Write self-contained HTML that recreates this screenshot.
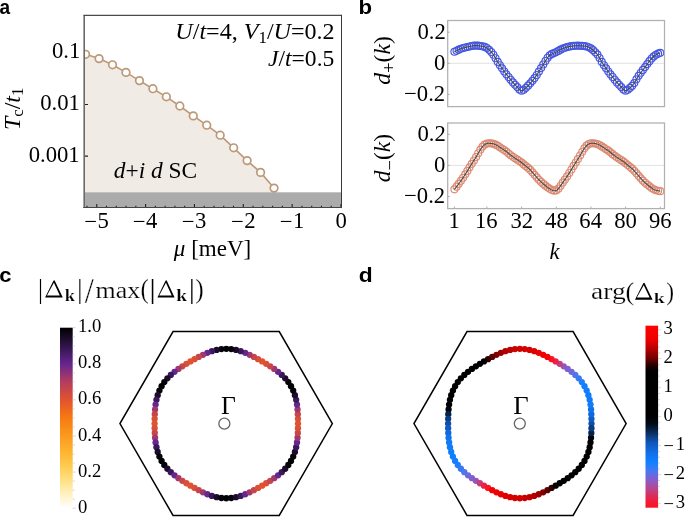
<!DOCTYPE html><html><head><meta charset="utf-8"><style>html,body{margin:0;padding:0;background:#fff;}svg{display:block;will-change:transform;}</style></head><body>
<svg width="685" height="517" viewBox="0 0 685 517" font-family="'Liberation Serif', serif">
<defs><clipPath id="ca"><rect x="84.5" y="15.5" width="256.5" height="192.5"/></clipPath>
<linearGradient id="gsun" x1="0" y1="0" x2="0" y2="1"><stop offset="0" stop-color="#000000"/><stop offset="0.1" stop-color="#2e1448"/><stop offset="0.2" stop-color="#642690"/><stop offset="0.3" stop-color="#b33d5e"/><stop offset="0.4" stop-color="#e1532f"/><stop offset="0.5" stop-color="#f77a12"/><stop offset="0.6" stop-color="#fb9a1e"/><stop offset="0.7" stop-color="#fdb833"/><stop offset="0.8" stop-color="#fed563"/><stop offset="0.9" stop-color="#ffedae"/><stop offset="1" stop-color="#ffffff"/></linearGradient>
<linearGradient id="garg" x1="0" y1="0" x2="0" y2="1"><stop offset="0" stop-color="#ff0000"/><stop offset="0.07" stop-color="#f00000"/><stop offset="0.12" stop-color="#c00000"/><stop offset="0.18" stop-color="#700000"/><stop offset="0.22" stop-color="#200000"/><stop offset="0.25" stop-color="#000000"/><stop offset="0.5" stop-color="#000000"/><stop offset="0.54" stop-color="#020a18"/><stop offset="0.59" stop-color="#0a2d60"/><stop offset="0.64" stop-color="#0f55b8"/><stop offset="0.7" stop-color="#1070e8"/><stop offset="0.75" stop-color="#1080ff"/><stop offset="0.8" stop-color="#4878f0"/><stop offset="0.84" stop-color="#8060d0"/><stop offset="0.89" stop-color="#b04a98"/><stop offset="0.94" stop-color="#e02850"/><stop offset="1" stop-color="#ff1020"/></linearGradient>
</defs>
<polygon points="84.5,53.95 85.6,54.3 99.06,58.6 112.52,64.8 125.98,72.4 139.44,80.6 152.9,88.7 166.36,96.8 179.82,106 193.28,115.9 206.74,125.2 220.2,135.2 233.66,147.8 247.12,160.6 260.58,172.4 274.04,188.1 274.04,192.3 84.5,192.3" fill="#f0ebe5"/>
<rect x="84.5" y="192.3" width="256.5" height="15.699999999999989" fill="#ababab"/>
<path d="M86.98,207.5v-1.8M96.75,207.5v-3.4M106.52,207.5v-1.8M116.29,207.5v-1.8M126.06,207.5v-1.8M135.83,207.5v-1.8M145.6,207.5v-3.4M155.37,207.5v-1.8M165.14,207.5v-1.8M174.91,207.5v-1.8M184.68,207.5v-1.8M194.45,207.5v-3.4M204.22,207.5v-1.8M213.99,207.5v-1.8M223.76,207.5v-1.8M233.53,207.5v-1.8M243.3,207.5v-3.4M253.07,207.5v-1.8M262.84,207.5v-1.8M272.61,207.5v-1.8M282.38,207.5v-1.8M292.15,207.5v-3.4M301.92,207.5v-1.8M311.69,207.5v-1.8M321.46,207.5v-1.8M331.23,207.5v-1.8M341,207.5v-3.4M84.5,52.9h3.5M84.5,104.5h3.5M84.5,156.1h3.5" stroke="#222" stroke-width="1.1" fill="none"/>
<g clip-path="url(#ca)">
<polyline points="85.6,54.3 99.06,58.6 112.52,64.8 125.98,72.4 139.44,80.6 152.9,88.7 166.36,96.8 179.82,106 193.28,115.9 206.74,125.2 220.2,135.2 233.66,147.8 247.12,160.6 260.58,172.4 274.04,188.1" fill="none" stroke="#BD9977" stroke-width="1.6"/>
<circle cx="85.6" cy="54.3" r="3.8" fill="#fff" stroke="#BD9977" stroke-width="1.7"/><circle cx="99.06" cy="58.6" r="3.8" fill="#fff" stroke="#BD9977" stroke-width="1.7"/><circle cx="112.52" cy="64.8" r="3.8" fill="#fff" stroke="#BD9977" stroke-width="1.7"/><circle cx="125.98" cy="72.4" r="3.8" fill="#fff" stroke="#BD9977" stroke-width="1.7"/><circle cx="139.44" cy="80.6" r="3.8" fill="#fff" stroke="#BD9977" stroke-width="1.7"/><circle cx="152.9" cy="88.7" r="3.8" fill="#fff" stroke="#BD9977" stroke-width="1.7"/><circle cx="166.36" cy="96.8" r="3.8" fill="#fff" stroke="#BD9977" stroke-width="1.7"/><circle cx="179.82" cy="106" r="3.8" fill="#fff" stroke="#BD9977" stroke-width="1.7"/><circle cx="193.28" cy="115.9" r="3.8" fill="#fff" stroke="#BD9977" stroke-width="1.7"/><circle cx="206.74" cy="125.2" r="3.8" fill="#fff" stroke="#BD9977" stroke-width="1.7"/><circle cx="220.2" cy="135.2" r="3.8" fill="#fff" stroke="#BD9977" stroke-width="1.7"/><circle cx="233.66" cy="147.8" r="3.8" fill="#fff" stroke="#BD9977" stroke-width="1.7"/><circle cx="247.12" cy="160.6" r="3.8" fill="#fff" stroke="#BD9977" stroke-width="1.7"/><circle cx="260.58" cy="172.4" r="3.8" fill="#fff" stroke="#BD9977" stroke-width="1.7"/><circle cx="274.04" cy="188.1" r="3.8" fill="#fff" stroke="#BD9977" stroke-width="1.7"/>
</g>
<path d="M84.2,15.4V208.1" stroke="#6a6a6a" stroke-width="1.6" fill="none"/>
<path d="M83.4,15.4H341.5" stroke="#4a4a4a" stroke-width="1.2" fill="none"/>
<path d="M341.5,14.8V208.1" stroke="#383838" stroke-width="1" fill="none"/>
<path d="M83.4,207.5H342" stroke="#444" stroke-width="1.2" fill="none"/>
<line x1="447.7" x2="664.5" y1="63.3" y2="63.3" stroke="#e2e2e2" stroke-width="1"/>
<circle cx="454.4" cy="51.75" r="3.5" fill="none" stroke="#4556e0" stroke-width="1.15"/><circle cx="456.57" cy="50.73" r="3.5" fill="none" stroke="#4556e0" stroke-width="1.15"/><circle cx="458.73" cy="49.64" r="3.5" fill="none" stroke="#4556e0" stroke-width="1.15"/><circle cx="460.9" cy="48.71" r="3.5" fill="none" stroke="#4556e0" stroke-width="1.15"/><circle cx="463.07" cy="48.03" r="3.5" fill="none" stroke="#4556e0" stroke-width="1.15"/><circle cx="465.23" cy="47.48" r="3.5" fill="none" stroke="#4556e0" stroke-width="1.15"/><circle cx="467.4" cy="46.97" r="3.5" fill="none" stroke="#4556e0" stroke-width="1.15"/><circle cx="469.57" cy="46.46" r="3.5" fill="none" stroke="#4556e0" stroke-width="1.15"/><circle cx="471.74" cy="46.01" r="3.5" fill="none" stroke="#4556e0" stroke-width="1.15"/><circle cx="473.9" cy="45.69" r="3.5" fill="none" stroke="#4556e0" stroke-width="1.15"/><circle cx="476.07" cy="45.55" r="3.5" fill="none" stroke="#4556e0" stroke-width="1.15"/><circle cx="478.24" cy="45.67" r="3.5" fill="none" stroke="#4556e0" stroke-width="1.15"/><circle cx="480.4" cy="46.01" r="3.5" fill="none" stroke="#4556e0" stroke-width="1.15"/><circle cx="482.57" cy="46.37" r="3.5" fill="none" stroke="#4556e0" stroke-width="1.15"/><circle cx="484.74" cy="46.89" r="3.5" fill="none" stroke="#4556e0" stroke-width="1.15"/><circle cx="486.9" cy="48.03" r="3.5" fill="none" stroke="#4556e0" stroke-width="1.15"/><circle cx="489.07" cy="49.8" r="3.5" fill="none" stroke="#4556e0" stroke-width="1.15"/><circle cx="491.24" cy="51.95" r="3.5" fill="none" stroke="#4556e0" stroke-width="1.15"/><circle cx="493.41" cy="54.7" r="3.5" fill="none" stroke="#4556e0" stroke-width="1.15"/><circle cx="495.57" cy="58.22" r="3.5" fill="none" stroke="#4556e0" stroke-width="1.15"/><circle cx="497.74" cy="61.91" r="3.5" fill="none" stroke="#4556e0" stroke-width="1.15"/><circle cx="499.91" cy="65.21" r="3.5" fill="none" stroke="#4556e0" stroke-width="1.15"/><circle cx="502.07" cy="68.33" r="3.5" fill="none" stroke="#4556e0" stroke-width="1.15"/><circle cx="504.24" cy="71.46" r="3.5" fill="none" stroke="#4556e0" stroke-width="1.15"/><circle cx="506.41" cy="74.33" r="3.5" fill="none" stroke="#4556e0" stroke-width="1.15"/><circle cx="508.57" cy="76.96" r="3.5" fill="none" stroke="#4556e0" stroke-width="1.15"/><circle cx="510.74" cy="79.71" r="3.5" fill="none" stroke="#4556e0" stroke-width="1.15"/><circle cx="512.91" cy="82.42" r="3.5" fill="none" stroke="#4556e0" stroke-width="1.15"/><circle cx="515.08" cy="84.78" r="3.5" fill="none" stroke="#4556e0" stroke-width="1.15"/><circle cx="517.24" cy="87.09" r="3.5" fill="none" stroke="#4556e0" stroke-width="1.15"/><circle cx="519.41" cy="89.47" r="3.5" fill="none" stroke="#4556e0" stroke-width="1.15"/><circle cx="521.58" cy="90.64" r="3.5" fill="none" stroke="#4556e0" stroke-width="1.15"/><circle cx="523.74" cy="89.75" r="3.5" fill="none" stroke="#4556e0" stroke-width="1.15"/><circle cx="525.91" cy="87.82" r="3.5" fill="none" stroke="#4556e0" stroke-width="1.15"/><circle cx="528.08" cy="85.68" r="3.5" fill="none" stroke="#4556e0" stroke-width="1.15"/><circle cx="530.25" cy="83.37" r="3.5" fill="none" stroke="#4556e0" stroke-width="1.15"/><circle cx="532.41" cy="80.84" r="3.5" fill="none" stroke="#4556e0" stroke-width="1.15"/><circle cx="534.58" cy="78.06" r="3.5" fill="none" stroke="#4556e0" stroke-width="1.15"/><circle cx="536.75" cy="74.97" r="3.5" fill="none" stroke="#4556e0" stroke-width="1.15"/><circle cx="538.91" cy="71.58" r="3.5" fill="none" stroke="#4556e0" stroke-width="1.15"/><circle cx="541.08" cy="68.06" r="3.5" fill="none" stroke="#4556e0" stroke-width="1.15"/><circle cx="543.25" cy="64.53" r="3.5" fill="none" stroke="#4556e0" stroke-width="1.15"/><circle cx="545.41" cy="61.04" r="3.5" fill="none" stroke="#4556e0" stroke-width="1.15"/><circle cx="547.58" cy="57.79" r="3.5" fill="none" stroke="#4556e0" stroke-width="1.15"/><circle cx="549.75" cy="55.33" r="3.5" fill="none" stroke="#4556e0" stroke-width="1.15"/><circle cx="551.91" cy="53.94" r="3.5" fill="none" stroke="#4556e0" stroke-width="1.15"/><circle cx="554.08" cy="53.07" r="3.5" fill="none" stroke="#4556e0" stroke-width="1.15"/><circle cx="556.25" cy="52.11" r="3.5" fill="none" stroke="#4556e0" stroke-width="1.15"/><circle cx="558.42" cy="50.9" r="3.5" fill="none" stroke="#4556e0" stroke-width="1.15"/><circle cx="560.58" cy="49.64" r="3.5" fill="none" stroke="#4556e0" stroke-width="1.15"/><circle cx="562.75" cy="48.56" r="3.5" fill="none" stroke="#4556e0" stroke-width="1.15"/><circle cx="564.92" cy="47.73" r="3.5" fill="none" stroke="#4556e0" stroke-width="1.15"/><circle cx="567.08" cy="47.08" r="3.5" fill="none" stroke="#4556e0" stroke-width="1.15"/><circle cx="569.25" cy="46.58" r="3.5" fill="none" stroke="#4556e0" stroke-width="1.15"/><circle cx="571.42" cy="46.18" r="3.5" fill="none" stroke="#4556e0" stroke-width="1.15"/><circle cx="573.58" cy="45.9" r="3.5" fill="none" stroke="#4556e0" stroke-width="1.15"/><circle cx="575.75" cy="45.74" r="3.5" fill="none" stroke="#4556e0" stroke-width="1.15"/><circle cx="577.92" cy="45.69" r="3.5" fill="none" stroke="#4556e0" stroke-width="1.15"/><circle cx="580.09" cy="45.74" r="3.5" fill="none" stroke="#4556e0" stroke-width="1.15"/><circle cx="582.25" cy="45.88" r="3.5" fill="none" stroke="#4556e0" stroke-width="1.15"/><circle cx="584.42" cy="46.12" r="3.5" fill="none" stroke="#4556e0" stroke-width="1.15"/><circle cx="586.59" cy="46.53" r="3.5" fill="none" stroke="#4556e0" stroke-width="1.15"/><circle cx="588.75" cy="47.21" r="3.5" fill="none" stroke="#4556e0" stroke-width="1.15"/><circle cx="590.92" cy="48.4" r="3.5" fill="none" stroke="#4556e0" stroke-width="1.15"/><circle cx="593.09" cy="50.19" r="3.5" fill="none" stroke="#4556e0" stroke-width="1.15"/><circle cx="595.25" cy="52.23" r="3.5" fill="none" stroke="#4556e0" stroke-width="1.15"/><circle cx="597.42" cy="54.61" r="3.5" fill="none" stroke="#4556e0" stroke-width="1.15"/><circle cx="599.59" cy="58.01" r="3.5" fill="none" stroke="#4556e0" stroke-width="1.15"/><circle cx="601.76" cy="61.92" r="3.5" fill="none" stroke="#4556e0" stroke-width="1.15"/><circle cx="603.92" cy="65.26" r="3.5" fill="none" stroke="#4556e0" stroke-width="1.15"/><circle cx="606.09" cy="68.32" r="3.5" fill="none" stroke="#4556e0" stroke-width="1.15"/><circle cx="608.26" cy="71.45" r="3.5" fill="none" stroke="#4556e0" stroke-width="1.15"/><circle cx="610.42" cy="74.33" r="3.5" fill="none" stroke="#4556e0" stroke-width="1.15"/><circle cx="612.59" cy="76.96" r="3.5" fill="none" stroke="#4556e0" stroke-width="1.15"/><circle cx="614.76" cy="79.71" r="3.5" fill="none" stroke="#4556e0" stroke-width="1.15"/><circle cx="616.92" cy="82.42" r="3.5" fill="none" stroke="#4556e0" stroke-width="1.15"/><circle cx="619.09" cy="84.78" r="3.5" fill="none" stroke="#4556e0" stroke-width="1.15"/><circle cx="621.26" cy="87.09" r="3.5" fill="none" stroke="#4556e0" stroke-width="1.15"/><circle cx="623.43" cy="89.48" r="3.5" fill="none" stroke="#4556e0" stroke-width="1.15"/><circle cx="625.59" cy="90.63" r="3.5" fill="none" stroke="#4556e0" stroke-width="1.15"/><circle cx="627.76" cy="89.7" r="3.5" fill="none" stroke="#4556e0" stroke-width="1.15"/><circle cx="629.93" cy="87.88" r="3.5" fill="none" stroke="#4556e0" stroke-width="1.15"/><circle cx="632.09" cy="85.88" r="3.5" fill="none" stroke="#4556e0" stroke-width="1.15"/><circle cx="634.26" cy="83.05" r="3.5" fill="none" stroke="#4556e0" stroke-width="1.15"/><circle cx="636.43" cy="79.37" r="3.5" fill="none" stroke="#4556e0" stroke-width="1.15"/><circle cx="638.6" cy="75.81" r="3.5" fill="none" stroke="#4556e0" stroke-width="1.15"/><circle cx="640.76" cy="72.74" r="3.5" fill="none" stroke="#4556e0" stroke-width="1.15"/><circle cx="642.93" cy="69.92" r="3.5" fill="none" stroke="#4556e0" stroke-width="1.15"/><circle cx="645.1" cy="67.09" r="3.5" fill="none" stroke="#4556e0" stroke-width="1.15"/><circle cx="647.26" cy="64.1" r="3.5" fill="none" stroke="#4556e0" stroke-width="1.15"/><circle cx="649.43" cy="61.14" r="3.5" fill="none" stroke="#4556e0" stroke-width="1.15"/><circle cx="651.6" cy="58.52" r="3.5" fill="none" stroke="#4556e0" stroke-width="1.15"/><circle cx="653.76" cy="56.42" r="3.5" fill="none" stroke="#4556e0" stroke-width="1.15"/><circle cx="655.93" cy="54.82" r="3.5" fill="none" stroke="#4556e0" stroke-width="1.15"/><circle cx="658.1" cy="53.66" r="3.5" fill="none" stroke="#4556e0" stroke-width="1.15"/><circle cx="660.26" cy="52.86" r="3.5" fill="none" stroke="#4556e0" stroke-width="1.15"/>
<polyline points="454.4,51.75 454.92,51.52 455.43,51.29 455.95,51.04 456.46,50.78 456.98,50.52 457.5,50.25 458.01,49.99 458.53,49.74 459.04,49.49 459.56,49.25 460.08,49.03 460.59,48.83 461.11,48.64 461.62,48.46 462.14,48.3 462.66,48.14 463.17,48 463.69,47.86 464.2,47.73 464.72,47.6 465.23,47.48 465.75,47.36 466.27,47.24 466.78,47.12 467.3,46.99 467.81,46.87 468.33,46.75 468.85,46.63 469.36,46.51 469.88,46.39 470.39,46.28 470.91,46.17 471.43,46.07 471.94,45.98 472.46,45.89 472.97,45.81 473.49,45.74 474.01,45.68 474.52,45.63 475.04,45.59 475.55,45.56 476.07,45.55 476.59,45.55 477.1,45.57 477.62,45.61 478.13,45.66 478.65,45.72 479.17,45.8 479.68,45.88 480.2,45.97 480.71,46.06 481.23,46.15 481.75,46.24 482.26,46.32 482.78,46.41 483.29,46.5 483.81,46.62 484.33,46.76 484.84,46.93 485.36,47.14 485.87,47.4 486.39,47.7 486.9,48.03 487.42,48.41 487.94,48.81 488.45,49.25 488.97,49.7 489.48,50.18 490,50.67 490.52,51.19 491.03,51.73 491.55,52.3 492.06,52.91 492.58,53.56 493.1,54.26 493.61,55.01 494.13,55.81 494.64,56.64 495.16,57.51 495.68,58.4 496.19,59.29 496.71,60.18 497.22,61.06 497.74,61.91 498.26,62.73 498.77,63.53 499.29,64.3 499.8,65.06 500.32,65.8 500.84,66.54 501.35,67.28 501.87,68.03 502.38,68.78 502.9,69.53 503.42,70.28 503.93,71.02 504.45,71.75 504.96,72.46 505.48,73.14 506,73.81 506.51,74.45 507.03,75.09 507.54,75.71 508.06,76.34 508.57,76.96 509.09,77.6 509.61,78.25 510.12,78.91 510.64,79.58 511.15,80.24 511.67,80.9 512.19,81.55 512.7,82.17 513.22,82.78 513.73,83.35 514.25,83.91 514.77,84.46 515.28,85 515.8,85.53 516.31,86.08 516.83,86.63 517.35,87.21 517.86,87.8 518.38,88.39 518.89,88.95 519.41,89.47 519.93,89.92 520.44,90.27 520.96,90.52 521.47,90.63 521.99,90.61 522.51,90.47 523.02,90.23 523.54,89.9 524.05,89.51 524.57,89.07 525.09,88.6 525.6,88.12 526.12,87.63 526.63,87.13 527.15,86.62 527.67,86.1 528.18,85.57 528.7,85.04 529.21,84.49 529.73,83.94 530.25,83.37 530.76,82.79 531.28,82.19 531.79,81.59 532.31,80.97 532.82,80.33 533.34,79.68 533.86,79.02 534.37,78.34 534.89,77.64 535.4,76.92 535.92,76.19 536.44,75.43 536.95,74.66 537.47,73.87 537.98,73.06 538.5,72.25 539.02,71.42 539.53,70.58 540.05,69.74 540.56,68.9 541.08,68.06 541.6,67.22 542.11,66.37 542.63,65.53 543.14,64.7 543.66,63.86 544.18,63.03 544.69,62.2 545.21,61.37 545.72,60.55 546.24,59.75 546.76,58.97 547.27,58.22 547.79,57.52 548.3,56.86 548.82,56.25 549.34,55.71 549.85,55.24 550.37,54.84 550.88,54.5 551.4,54.2 551.91,53.94 552.43,53.71 552.95,53.5 553.46,53.3 553.98,53.11 554.49,52.91 555.01,52.7 555.53,52.47 556.04,52.21 556.56,51.95 557.07,51.67 557.59,51.38 558.11,51.08 558.62,50.78 559.14,50.47 559.65,50.17 560.17,49.88 560.69,49.59 561.2,49.31 561.72,49.04 562.23,48.8 562.75,48.56 563.27,48.34 563.78,48.14 564.3,47.94 564.81,47.76 565.33,47.59 565.85,47.43 566.36,47.28 566.88,47.14 567.39,47 567.91,46.88 568.43,46.76 568.94,46.64 569.46,46.54 569.97,46.43 570.49,46.34 571.01,46.25 571.52,46.17 572.04,46.09 572.55,46.02 573.07,45.96 573.58,45.9 574.1,45.85 574.62,45.81 575.13,45.77 575.65,45.74 576.16,45.72 576.68,45.71 577.2,45.7 577.71,45.69 578.23,45.69 578.74,45.7 579.26,45.71 579.78,45.73 580.29,45.75 580.81,45.78 581.32,45.81 581.84,45.84 582.36,45.88 582.87,45.93 583.39,45.99 583.9,46.05 584.42,46.12 584.94,46.2 585.45,46.29 585.97,46.39 586.48,46.5 587,46.63 587.52,46.77 588.03,46.94 588.55,47.12 589.06,47.34 589.58,47.59 590.1,47.87 590.61,48.19 591.13,48.55 591.64,48.94 592.16,49.37 592.68,49.82 593.19,50.28 593.71,50.76 594.22,51.25 594.74,51.74 595.25,52.23 595.77,52.74 596.29,53.28 596.8,53.86 597.32,54.48 597.83,55.17 598.35,55.92 598.87,56.75 599.38,57.64 599.9,58.57 600.41,59.52 600.93,60.46 601.45,61.39 601.96,62.27 602.48,63.1 602.99,63.9 603.51,64.66 604.03,65.4 604.54,66.13 605.06,66.86 605.57,67.58 606.09,68.32 606.61,69.07 607.12,69.82 607.64,70.56 608.15,71.3 608.67,72.03 609.19,72.73 609.7,73.41 610.22,74.07 610.73,74.71 611.25,75.34 611.77,75.96 612.28,76.59 612.8,77.22 613.31,77.86 613.83,78.52 614.35,79.18 614.86,79.84 615.38,80.51 615.89,81.16 616.41,81.8 616.92,82.42 617.44,83.01 617.96,83.58 618.47,84.13 618.99,84.67 619.5,85.21 620.02,85.75 620.54,86.3 621.05,86.86 621.57,87.45 622.08,88.05 622.6,88.63 623.12,89.18 623.63,89.67 624.15,90.08 624.66,90.39 625.18,90.58 625.7,90.63 626.21,90.54 626.73,90.34 627.24,90.06 627.76,89.7 628.28,89.29 628.79,88.86 629.31,88.41 629.82,87.97 630.34,87.53 630.86,87.07 631.37,86.6 631.89,86.09 632.4,85.54 632.92,84.94 633.44,84.27 633.95,83.52 634.47,82.72 634.98,81.87 635.5,80.99 636.02,80.09 636.53,79.19 637.05,78.3 637.56,77.44 638.08,76.61 638.6,75.81 639.11,75.04 639.63,74.3 640.14,73.58 640.66,72.88 641.17,72.19 641.69,71.52 642.21,70.85 642.72,70.19 643.24,69.52 643.75,68.86 644.27,68.19 644.79,67.51 645.3,66.82 645.82,66.11 646.33,65.39 646.85,64.67 647.37,63.95 647.88,63.23 648.4,62.52 648.91,61.82 649.43,61.14 649.95,60.47 650.46,59.83 650.98,59.22 651.49,58.63 652.01,58.08 652.53,57.56 653.04,57.07 653.56,56.6 654.07,56.17 654.59,55.76 655.11,55.38 655.62,55.02 656.14,54.69 656.65,54.39 657.17,54.11 657.69,53.85 658.2,53.61 658.72,53.4 659.23,53.2 659.75,53.02 660.26,52.86" fill="none" stroke="#4a4a4a" stroke-width="1.1"/>
<path d="M447.7,94.4h2M447.7,63.3h2M447.7,32.2h2" stroke="#aaa" stroke-width="1" fill="none"/>
<rect x="447.7" y="20.5" width="216.8" height="86.1" fill="none" stroke="#b0b0b0" stroke-width="1.25"/>
<line x1="447.7" x2="664.5" y1="165.4" y2="165.4" stroke="#e2e2e2" stroke-width="1"/>
<circle cx="454.4" cy="189.35" r="3.5" fill="none" stroke="#db8a72" stroke-width="1.15"/><circle cx="456.57" cy="186.65" r="3.5" fill="none" stroke="#db8a72" stroke-width="1.15"/><circle cx="458.73" cy="183.85" r="3.5" fill="none" stroke="#db8a72" stroke-width="1.15"/><circle cx="460.9" cy="180.86" r="3.5" fill="none" stroke="#db8a72" stroke-width="1.15"/><circle cx="463.07" cy="177.7" r="3.5" fill="none" stroke="#db8a72" stroke-width="1.15"/><circle cx="465.23" cy="174.37" r="3.5" fill="none" stroke="#db8a72" stroke-width="1.15"/><circle cx="467.4" cy="170.9" r="3.5" fill="none" stroke="#db8a72" stroke-width="1.15"/><circle cx="469.57" cy="167.34" r="3.5" fill="none" stroke="#db8a72" stroke-width="1.15"/><circle cx="471.74" cy="163.84" r="3.5" fill="none" stroke="#db8a72" stroke-width="1.15"/><circle cx="473.9" cy="160.47" r="3.5" fill="none" stroke="#db8a72" stroke-width="1.15"/><circle cx="476.07" cy="157" r="3.5" fill="none" stroke="#db8a72" stroke-width="1.15"/><circle cx="478.24" cy="153.25" r="3.5" fill="none" stroke="#db8a72" stroke-width="1.15"/><circle cx="480.4" cy="149.61" r="3.5" fill="none" stroke="#db8a72" stroke-width="1.15"/><circle cx="482.57" cy="146.58" r="3.5" fill="none" stroke="#db8a72" stroke-width="1.15"/><circle cx="484.74" cy="144.55" r="3.5" fill="none" stroke="#db8a72" stroke-width="1.15"/><circle cx="486.9" cy="143.51" r="3.5" fill="none" stroke="#db8a72" stroke-width="1.15"/><circle cx="489.07" cy="143.27" r="3.5" fill="none" stroke="#db8a72" stroke-width="1.15"/><circle cx="491.24" cy="143.42" r="3.5" fill="none" stroke="#db8a72" stroke-width="1.15"/><circle cx="493.41" cy="143.85" r="3.5" fill="none" stroke="#db8a72" stroke-width="1.15"/><circle cx="495.57" cy="144.66" r="3.5" fill="none" stroke="#db8a72" stroke-width="1.15"/><circle cx="497.74" cy="145.85" r="3.5" fill="none" stroke="#db8a72" stroke-width="1.15"/><circle cx="499.91" cy="147.25" r="3.5" fill="none" stroke="#db8a72" stroke-width="1.15"/><circle cx="502.07" cy="148.71" r="3.5" fill="none" stroke="#db8a72" stroke-width="1.15"/><circle cx="504.24" cy="150.09" r="3.5" fill="none" stroke="#db8a72" stroke-width="1.15"/><circle cx="506.41" cy="151.61" r="3.5" fill="none" stroke="#db8a72" stroke-width="1.15"/><circle cx="508.57" cy="153.45" r="3.5" fill="none" stroke="#db8a72" stroke-width="1.15"/><circle cx="510.74" cy="155.2" r="3.5" fill="none" stroke="#db8a72" stroke-width="1.15"/><circle cx="512.91" cy="156.76" r="3.5" fill="none" stroke="#db8a72" stroke-width="1.15"/><circle cx="515.08" cy="158.22" r="3.5" fill="none" stroke="#db8a72" stroke-width="1.15"/><circle cx="517.24" cy="159.63" r="3.5" fill="none" stroke="#db8a72" stroke-width="1.15"/><circle cx="519.41" cy="161.03" r="3.5" fill="none" stroke="#db8a72" stroke-width="1.15"/><circle cx="521.58" cy="162.59" r="3.5" fill="none" stroke="#db8a72" stroke-width="1.15"/><circle cx="523.74" cy="164.39" r="3.5" fill="none" stroke="#db8a72" stroke-width="1.15"/><circle cx="525.91" cy="166.18" r="3.5" fill="none" stroke="#db8a72" stroke-width="1.15"/><circle cx="528.08" cy="167.92" r="3.5" fill="none" stroke="#db8a72" stroke-width="1.15"/><circle cx="530.25" cy="169.94" r="3.5" fill="none" stroke="#db8a72" stroke-width="1.15"/><circle cx="532.41" cy="172.32" r="3.5" fill="none" stroke="#db8a72" stroke-width="1.15"/><circle cx="534.58" cy="174.83" r="3.5" fill="none" stroke="#db8a72" stroke-width="1.15"/><circle cx="536.75" cy="177.35" r="3.5" fill="none" stroke="#db8a72" stroke-width="1.15"/><circle cx="538.91" cy="179.76" r="3.5" fill="none" stroke="#db8a72" stroke-width="1.15"/><circle cx="541.08" cy="181.94" r="3.5" fill="none" stroke="#db8a72" stroke-width="1.15"/><circle cx="543.25" cy="183.88" r="3.5" fill="none" stroke="#db8a72" stroke-width="1.15"/><circle cx="545.41" cy="185.68" r="3.5" fill="none" stroke="#db8a72" stroke-width="1.15"/><circle cx="547.58" cy="187.35" r="3.5" fill="none" stroke="#db8a72" stroke-width="1.15"/><circle cx="549.75" cy="188.79" r="3.5" fill="none" stroke="#db8a72" stroke-width="1.15"/><circle cx="551.91" cy="189.95" r="3.5" fill="none" stroke="#db8a72" stroke-width="1.15"/><circle cx="554.08" cy="190.69" r="3.5" fill="none" stroke="#db8a72" stroke-width="1.15"/><circle cx="556.25" cy="190.44" r="3.5" fill="none" stroke="#db8a72" stroke-width="1.15"/><circle cx="558.42" cy="188.67" r="3.5" fill="none" stroke="#db8a72" stroke-width="1.15"/><circle cx="560.58" cy="185.76" r="3.5" fill="none" stroke="#db8a72" stroke-width="1.15"/><circle cx="562.75" cy="182.6" r="3.5" fill="none" stroke="#db8a72" stroke-width="1.15"/><circle cx="564.92" cy="179.56" r="3.5" fill="none" stroke="#db8a72" stroke-width="1.15"/><circle cx="567.08" cy="176.41" r="3.5" fill="none" stroke="#db8a72" stroke-width="1.15"/><circle cx="569.25" cy="173.02" r="3.5" fill="none" stroke="#db8a72" stroke-width="1.15"/><circle cx="571.42" cy="169.48" r="3.5" fill="none" stroke="#db8a72" stroke-width="1.15"/><circle cx="573.58" cy="165.92" r="3.5" fill="none" stroke="#db8a72" stroke-width="1.15"/><circle cx="575.75" cy="162.49" r="3.5" fill="none" stroke="#db8a72" stroke-width="1.15"/><circle cx="577.92" cy="159.12" r="3.5" fill="none" stroke="#db8a72" stroke-width="1.15"/><circle cx="580.09" cy="155.52" r="3.5" fill="none" stroke="#db8a72" stroke-width="1.15"/><circle cx="582.25" cy="151.75" r="3.5" fill="none" stroke="#db8a72" stroke-width="1.15"/><circle cx="584.42" cy="148.3" r="3.5" fill="none" stroke="#db8a72" stroke-width="1.15"/><circle cx="586.59" cy="145.65" r="3.5" fill="none" stroke="#db8a72" stroke-width="1.15"/><circle cx="588.75" cy="144.02" r="3.5" fill="none" stroke="#db8a72" stroke-width="1.15"/><circle cx="590.92" cy="143.34" r="3.5" fill="none" stroke="#db8a72" stroke-width="1.15"/><circle cx="593.09" cy="143.3" r="3.5" fill="none" stroke="#db8a72" stroke-width="1.15"/><circle cx="595.25" cy="143.55" r="3.5" fill="none" stroke="#db8a72" stroke-width="1.15"/><circle cx="597.42" cy="144.12" r="3.5" fill="none" stroke="#db8a72" stroke-width="1.15"/><circle cx="599.59" cy="145.1" r="3.5" fill="none" stroke="#db8a72" stroke-width="1.15"/><circle cx="601.76" cy="146.39" r="3.5" fill="none" stroke="#db8a72" stroke-width="1.15"/><circle cx="603.92" cy="147.84" r="3.5" fill="none" stroke="#db8a72" stroke-width="1.15"/><circle cx="606.09" cy="149.26" r="3.5" fill="none" stroke="#db8a72" stroke-width="1.15"/><circle cx="608.26" cy="150.66" r="3.5" fill="none" stroke="#db8a72" stroke-width="1.15"/><circle cx="610.42" cy="152.32" r="3.5" fill="none" stroke="#db8a72" stroke-width="1.15"/><circle cx="612.59" cy="154.18" r="3.5" fill="none" stroke="#db8a72" stroke-width="1.15"/><circle cx="614.76" cy="155.84" r="3.5" fill="none" stroke="#db8a72" stroke-width="1.15"/><circle cx="616.92" cy="157.35" r="3.5" fill="none" stroke="#db8a72" stroke-width="1.15"/><circle cx="619.09" cy="158.79" r="3.5" fill="none" stroke="#db8a72" stroke-width="1.15"/><circle cx="621.26" cy="160.18" r="3.5" fill="none" stroke="#db8a72" stroke-width="1.15"/><circle cx="623.43" cy="161.62" r="3.5" fill="none" stroke="#db8a72" stroke-width="1.15"/><circle cx="625.59" cy="163.29" r="3.5" fill="none" stroke="#db8a72" stroke-width="1.15"/><circle cx="627.76" cy="165.12" r="3.5" fill="none" stroke="#db8a72" stroke-width="1.15"/><circle cx="629.93" cy="166.87" r="3.5" fill="none" stroke="#db8a72" stroke-width="1.15"/><circle cx="632.09" cy="168.68" r="3.5" fill="none" stroke="#db8a72" stroke-width="1.15"/><circle cx="634.26" cy="170.86" r="3.5" fill="none" stroke="#db8a72" stroke-width="1.15"/><circle cx="636.43" cy="173.32" r="3.5" fill="none" stroke="#db8a72" stroke-width="1.15"/><circle cx="638.6" cy="175.84" r="3.5" fill="none" stroke="#db8a72" stroke-width="1.15"/><circle cx="640.76" cy="178.33" r="3.5" fill="none" stroke="#db8a72" stroke-width="1.15"/><circle cx="642.93" cy="180.67" r="3.5" fill="none" stroke="#db8a72" stroke-width="1.15"/><circle cx="645.1" cy="182.74" r="3.5" fill="none" stroke="#db8a72" stroke-width="1.15"/><circle cx="647.26" cy="184.61" r="3.5" fill="none" stroke="#db8a72" stroke-width="1.15"/><circle cx="649.43" cy="186.35" r="3.5" fill="none" stroke="#db8a72" stroke-width="1.15"/><circle cx="651.6" cy="187.96" r="3.5" fill="none" stroke="#db8a72" stroke-width="1.15"/><circle cx="653.76" cy="189.35" r="3.5" fill="none" stroke="#db8a72" stroke-width="1.15"/><circle cx="655.93" cy="190.28" r="3.5" fill="none" stroke="#db8a72" stroke-width="1.15"/><circle cx="658.1" cy="190.74" r="3.5" fill="none" stroke="#db8a72" stroke-width="1.15"/><circle cx="660.26" cy="191.19" r="3.5" fill="none" stroke="#db8a72" stroke-width="1.15"/>
<polyline points="454.4,189.35 454.92,188.72 455.43,188.08 455.95,187.43 456.46,186.79 456.98,186.13 457.5,185.47 458.01,184.8 458.53,184.12 459.04,183.43 459.56,182.73 460.08,182.02 460.59,181.3 461.11,180.57 461.62,179.82 462.14,179.07 462.66,178.31 463.17,177.54 463.69,176.76 464.2,175.97 464.72,175.18 465.23,174.37 465.75,173.56 466.27,172.74 466.78,171.91 467.3,171.07 467.81,170.23 468.33,169.38 468.85,168.53 469.36,167.68 469.88,166.84 470.39,165.99 470.91,165.16 471.43,164.33 471.94,163.51 472.46,162.71 472.97,161.91 473.49,161.11 474.01,160.31 474.52,159.51 475.04,158.69 475.55,157.86 476.07,157 476.59,156.13 477.1,155.24 477.62,154.33 478.13,153.43 478.65,152.53 479.17,151.64 479.68,150.78 480.2,149.93 480.71,149.13 481.23,148.36 481.75,147.63 482.26,146.96 482.78,146.35 483.29,145.79 483.81,145.29 484.33,144.86 484.84,144.48 485.36,144.15 485.87,143.89 486.39,143.67 486.9,143.51 487.42,143.4 487.94,143.32 488.45,143.28 488.97,143.27 489.48,143.28 490,143.3 490.52,143.35 491.03,143.4 491.55,143.46 492.06,143.55 492.58,143.64 493.1,143.76 493.61,143.9 494.13,144.07 494.64,144.26 495.16,144.47 495.68,144.71 496.19,144.97 496.71,145.25 497.22,145.54 497.74,145.85 498.26,146.17 498.77,146.5 499.29,146.84 499.8,147.18 500.32,147.53 500.84,147.88 501.35,148.23 501.87,148.57 502.38,148.91 502.9,149.24 503.42,149.56 503.93,149.89 504.45,150.22 504.96,150.56 505.48,150.92 506,151.29 506.51,151.69 507.03,152.11 507.54,152.55 508.06,153 508.57,153.45 509.09,153.89 509.61,154.32 510.12,154.73 510.64,155.13 511.15,155.51 511.67,155.89 512.19,156.26 512.7,156.62 513.22,156.97 513.73,157.32 514.25,157.67 514.77,158.02 515.28,158.36 515.8,158.7 516.31,159.03 516.83,159.36 517.35,159.69 517.86,160.02 518.38,160.35 518.89,160.69 519.41,161.03 519.93,161.38 520.44,161.74 520.96,162.12 521.47,162.51 521.99,162.92 522.51,163.34 523.02,163.77 523.54,164.21 524.05,164.65 524.57,165.09 525.09,165.52 525.6,165.94 526.12,166.35 526.63,166.76 527.15,167.17 527.67,167.58 528.18,168.01 528.7,168.46 529.21,168.93 529.73,169.42 530.25,169.94 530.76,170.48 531.28,171.05 531.79,171.62 532.31,172.2 532.82,172.79 533.34,173.39 533.86,173.99 534.37,174.59 534.89,175.19 535.4,175.79 535.92,176.39 536.44,176.99 536.95,177.58 537.47,178.17 537.98,178.75 538.5,179.31 539.02,179.87 539.53,180.41 540.05,180.94 540.56,181.45 541.08,181.94 541.6,182.42 542.11,182.89 542.63,183.34 543.14,183.79 543.66,184.23 544.18,184.66 544.69,185.09 545.21,185.51 545.72,185.93 546.24,186.33 546.76,186.73 547.27,187.12 547.79,187.49 548.3,187.86 548.82,188.21 549.34,188.54 549.85,188.86 550.37,189.16 550.88,189.44 551.4,189.71 551.91,189.95 552.43,190.18 552.95,190.38 553.46,190.55 553.98,190.67 554.49,190.74 555.01,190.75 555.53,190.67 556.04,190.52 556.56,190.28 557.07,189.95 557.59,189.53 558.11,189.01 558.62,188.43 559.14,187.78 559.65,187.09 560.17,186.36 560.69,185.61 561.2,184.85 561.72,184.08 562.23,183.33 562.75,182.6 563.27,181.87 563.78,181.15 564.3,180.43 564.81,179.71 565.33,178.98 565.85,178.24 566.36,177.49 566.88,176.72 567.39,175.93 567.91,175.14 568.43,174.33 568.94,173.51 569.46,172.68 569.97,171.85 570.49,171.01 571.01,170.16 571.52,169.31 572.04,168.46 572.55,167.61 573.07,166.76 573.58,165.92 574.1,165.09 574.62,164.26 575.13,163.45 575.65,162.65 576.16,161.85 576.68,161.05 577.2,160.25 577.71,159.44 578.23,158.62 578.74,157.79 579.26,156.93 579.78,156.06 580.29,155.16 580.81,154.26 581.32,153.36 581.84,152.46 582.36,151.57 582.87,150.71 583.39,149.87 583.9,149.06 584.42,148.3 584.94,147.58 585.45,146.91 585.97,146.3 586.48,145.75 587,145.26 587.52,144.82 588.03,144.45 588.55,144.13 589.06,143.87 589.58,143.66 590.1,143.5 590.61,143.39 591.13,143.32 591.64,143.28 592.16,143.27 592.68,143.28 593.19,143.31 593.71,143.35 594.22,143.4 594.74,143.47 595.25,143.55 595.77,143.65 596.29,143.77 596.8,143.92 597.32,144.08 597.83,144.28 598.35,144.49 598.87,144.73 599.38,144.99 599.9,145.27 600.41,145.56 600.93,145.87 601.45,146.19 601.96,146.52 602.48,146.86 602.99,147.21 603.51,147.56 604.03,147.91 604.54,148.25 605.06,148.6 605.57,148.93 606.09,149.26 606.61,149.59 607.12,149.92 607.64,150.25 608.15,150.59 608.67,150.95 609.19,151.32 609.7,151.72 610.22,152.15 610.73,152.59 611.25,153.04 611.77,153.48 612.28,153.92 612.8,154.35 613.31,154.76 613.83,155.16 614.35,155.54 614.86,155.92 615.38,156.29 615.89,156.65 616.41,157 616.92,157.35 617.44,157.7 617.96,158.04 618.47,158.38 618.99,158.72 619.5,159.06 620.02,159.39 620.54,159.72 621.05,160.05 621.57,160.38 622.08,160.71 622.6,161.06 623.12,161.41 623.63,161.77 624.15,162.15 624.66,162.54 625.18,162.95 625.7,163.38 626.21,163.81 626.73,164.25 627.24,164.69 627.76,165.12 628.28,165.55 628.79,165.97 629.31,166.38 629.82,166.79 630.34,167.2 630.86,167.62 631.37,168.05 631.89,168.49 632.4,168.96 632.92,169.46 633.44,169.98 633.95,170.53 634.47,171.09 634.98,171.67 635.5,172.25 636.02,172.84 636.53,173.44 637.05,174.03 637.56,174.64 638.08,175.24 638.6,175.84 639.11,176.44 639.63,177.04 640.14,177.63 640.66,178.21 641.17,178.79 641.69,179.36 642.21,179.91 642.72,180.46 643.24,180.98 643.75,181.49 644.27,181.98 644.79,182.46 645.3,182.93 645.82,183.38 646.33,183.83 646.85,184.27 647.37,184.7 647.88,185.12 648.4,185.54 648.91,185.95 649.43,186.35 649.95,186.75 650.46,187.14 650.98,187.52 651.49,187.89 652.01,188.25 652.53,188.59 653.04,188.92 653.56,189.23 654.07,189.51 654.59,189.77 655.11,189.99 655.62,190.18 656.14,190.34 656.65,190.47 657.17,190.57 657.69,190.67 658.2,190.76 658.72,190.85 659.23,190.94 659.75,191.05 660.26,191.19" fill="none" stroke="#4a4a4a" stroke-width="1.1"/>
<path d="M447.7,196.5h2M447.7,165.4h2M447.7,134.3h2M454.4,208.6v-2M486.9,208.6v-2M521.58,208.6v-2M556.25,208.6v-2M590.92,208.6v-2M625.59,208.6v-2M660.26,208.6v-2" stroke="#aaa" stroke-width="1" fill="none"/>
<rect x="447.7" y="123.0" width="216.8" height="85.6" fill="none" stroke="#b0b0b0" stroke-width="1.25"/>
<rect x="60" y="327.7" width="12.7" height="180.5" fill="url(#gsun)"/>
<path d="M72.7,508.2h3M72.7,499.18h2M72.7,490.15h2M72.7,481.12h2M72.7,472.1h3M72.7,463.07h2M72.7,454.05h2M72.7,445.02h2M72.7,436h3M72.7,426.98h2M72.7,417.95h2M72.7,408.92h2M72.7,399.9h3M72.7,390.88h2M72.7,381.85h2M72.7,372.82h2M72.7,363.8h3M72.7,354.77h2M72.7,345.75h2M72.7,336.73h2M72.7,327.7h3" stroke="#ccc" stroke-width="0.8" fill="none"/>
<polygon points="332.35,423.5 279.25,331.53 173.05,331.53 119.95,423.5 173.05,515.47 279.25,515.47" fill="none" stroke="#000" stroke-width="1.5" stroke-linejoin="miter"/>
<circle cx="298" cy="423.55" r="3.15" fill="#e1532f"/><circle cx="297.96" cy="418.85" r="3.15" fill="#da5036"/><circle cx="297.82" cy="414.13" r="3.15" fill="#c6464b"/><circle cx="297.53" cy="409.38" r="3.15" fill="#a0386a"/><circle cx="297.01" cy="404.6" r="3.15" fill="#642690"/><circle cx="296.16" cy="399.84" r="3.15" fill="#3b1859"/><circle cx="294.91" cy="395.13" r="3.15" fill="#1b0c2a"/><circle cx="293.19" cy="390.56" r="3.15" fill="#07030b"/><circle cx="290.99" cy="386.2" r="3.15" fill="#000000"/><circle cx="288.32" cy="382.11" r="3.15" fill="#07030b"/><circle cx="285.21" cy="378.34" r="3.15" fill="#1b0c2a"/><circle cx="281.77" cy="374.91" r="3.15" fill="#3b1859"/><circle cx="278.06" cy="371.79" r="3.15" fill="#642690"/><circle cx="274.19" cy="368.95" r="3.15" fill="#a0386a"/><circle cx="270.22" cy="366.32" r="3.15" fill="#c6464b"/><circle cx="266.2" cy="363.84" r="3.15" fill="#da5036"/><circle cx="262.15" cy="361.46" r="3.15" fill="#e1532f"/><circle cx="258.06" cy="359.14" r="3.15" fill="#da5036"/><circle cx="253.91" cy="356.9" r="3.15" fill="#c6464b"/><circle cx="249.64" cy="354.78" r="3.15" fill="#a0386a"/><circle cx="245.25" cy="352.84" r="3.15" fill="#642690"/><circle cx="240.69" cy="351.19" r="3.15" fill="#3b1859"/><circle cx="235.99" cy="349.92" r="3.15" fill="#1b0c2a"/><circle cx="231.18" cy="349.12" r="3.15" fill="#07030b"/><circle cx="226.3" cy="348.85" r="3.15" fill="#000000"/><circle cx="221.42" cy="349.12" r="3.15" fill="#07030b"/><circle cx="216.61" cy="349.92" r="3.15" fill="#1b0c2a"/><circle cx="211.91" cy="351.19" r="3.15" fill="#3b1859"/><circle cx="207.35" cy="352.84" r="3.15" fill="#642690"/><circle cx="202.96" cy="354.78" r="3.15" fill="#a0386a"/><circle cx="198.69" cy="356.9" r="3.15" fill="#c6464b"/><circle cx="194.54" cy="359.14" r="3.15" fill="#da5036"/><circle cx="190.45" cy="361.46" r="3.15" fill="#e1532f"/><circle cx="186.4" cy="363.84" r="3.15" fill="#da5036"/><circle cx="182.38" cy="366.32" r="3.15" fill="#c6464b"/><circle cx="178.41" cy="368.95" r="3.15" fill="#a0386a"/><circle cx="174.54" cy="371.79" r="3.15" fill="#642690"/><circle cx="170.83" cy="374.91" r="3.15" fill="#3b1859"/><circle cx="167.39" cy="378.34" r="3.15" fill="#1b0c2a"/><circle cx="164.28" cy="382.11" r="3.15" fill="#07030b"/><circle cx="161.61" cy="386.2" r="3.15" fill="#000000"/><circle cx="159.41" cy="390.56" r="3.15" fill="#07030b"/><circle cx="157.69" cy="395.13" r="3.15" fill="#1b0c2a"/><circle cx="156.44" cy="399.84" r="3.15" fill="#3b1859"/><circle cx="155.59" cy="404.6" r="3.15" fill="#642690"/><circle cx="155.07" cy="409.38" r="3.15" fill="#a0386a"/><circle cx="154.78" cy="414.13" r="3.15" fill="#c6464b"/><circle cx="154.64" cy="418.85" r="3.15" fill="#da5036"/><circle cx="154.6" cy="423.55" r="3.15" fill="#e1532f"/><circle cx="154.64" cy="428.25" r="3.15" fill="#da5036"/><circle cx="154.78" cy="432.97" r="3.15" fill="#c6464b"/><circle cx="155.07" cy="437.72" r="3.15" fill="#a0386a"/><circle cx="155.59" cy="442.5" r="3.15" fill="#642690"/><circle cx="156.44" cy="447.26" r="3.15" fill="#3b1859"/><circle cx="157.69" cy="451.97" r="3.15" fill="#1b0c2a"/><circle cx="159.41" cy="456.54" r="3.15" fill="#07030b"/><circle cx="161.61" cy="460.9" r="3.15" fill="#000000"/><circle cx="164.28" cy="464.99" r="3.15" fill="#07030b"/><circle cx="167.39" cy="468.76" r="3.15" fill="#1b0c2a"/><circle cx="170.83" cy="472.19" r="3.15" fill="#3b1859"/><circle cx="174.54" cy="475.31" r="3.15" fill="#642690"/><circle cx="178.41" cy="478.15" r="3.15" fill="#a0386a"/><circle cx="182.38" cy="480.78" r="3.15" fill="#c6464b"/><circle cx="186.4" cy="483.26" r="3.15" fill="#da5036"/><circle cx="190.45" cy="485.64" r="3.15" fill="#e1532f"/><circle cx="194.54" cy="487.96" r="3.15" fill="#da5036"/><circle cx="198.69" cy="490.2" r="3.15" fill="#c6464b"/><circle cx="202.96" cy="492.32" r="3.15" fill="#a0386a"/><circle cx="207.35" cy="494.26" r="3.15" fill="#642690"/><circle cx="211.91" cy="495.91" r="3.15" fill="#3b1859"/><circle cx="216.61" cy="497.18" r="3.15" fill="#1b0c2a"/><circle cx="221.42" cy="497.98" r="3.15" fill="#07030b"/><circle cx="226.3" cy="498.25" r="3.15" fill="#000000"/><circle cx="231.18" cy="497.98" r="3.15" fill="#07030b"/><circle cx="235.99" cy="497.18" r="3.15" fill="#1b0c2a"/><circle cx="240.69" cy="495.91" r="3.15" fill="#3b1859"/><circle cx="245.25" cy="494.26" r="3.15" fill="#642690"/><circle cx="249.64" cy="492.32" r="3.15" fill="#a0386a"/><circle cx="253.91" cy="490.2" r="3.15" fill="#c6464b"/><circle cx="258.06" cy="487.96" r="3.15" fill="#da5036"/><circle cx="262.15" cy="485.64" r="3.15" fill="#e1532f"/><circle cx="266.2" cy="483.26" r="3.15" fill="#da5036"/><circle cx="270.22" cy="480.78" r="3.15" fill="#c6464b"/><circle cx="274.19" cy="478.15" r="3.15" fill="#a0386a"/><circle cx="278.06" cy="475.31" r="3.15" fill="#642690"/><circle cx="281.77" cy="472.19" r="3.15" fill="#3b1859"/><circle cx="285.21" cy="468.76" r="3.15" fill="#1b0c2a"/><circle cx="288.32" cy="464.99" r="3.15" fill="#07030b"/><circle cx="290.99" cy="460.9" r="3.15" fill="#000000"/><circle cx="293.19" cy="456.54" r="3.15" fill="#07030b"/><circle cx="294.91" cy="451.97" r="3.15" fill="#1b0c2a"/><circle cx="296.16" cy="447.26" r="3.15" fill="#3b1859"/><circle cx="297.01" cy="442.5" r="3.15" fill="#642690"/><circle cx="297.53" cy="437.72" r="3.15" fill="#a0386a"/><circle cx="297.82" cy="432.97" r="3.15" fill="#c6464b"/><circle cx="297.96" cy="428.25" r="3.15" fill="#da5036"/>
<circle cx="224.35" cy="423.65" r="5.5" fill="none" stroke="#666" stroke-width="1.3"/>
<rect x="645.5" y="325.7" width="12.6" height="182" fill="url(#garg)"/>
<path d="M658.1,503.7h3M658.1,497.9h2M658.1,492.1h2M658.1,486.3h2M658.1,480.5h2M658.1,474.7h3M658.1,468.9h2M658.1,463.1h2M658.1,457.3h2M658.1,451.5h2M658.1,445.7h3M658.1,439.9h2M658.1,434.1h2M658.1,428.3h2M658.1,422.5h2M658.1,416.7h3M658.1,410.9h2M658.1,405.1h2M658.1,399.3h2M658.1,393.5h2M658.1,387.7h3M658.1,381.9h2M658.1,376.1h2M658.1,370.3h2M658.1,364.5h2M658.1,358.7h3M658.1,352.9h2M658.1,347.1h2M658.1,341.3h2M658.1,335.5h2M658.1,329.7h3" stroke="#ccc" stroke-width="0.8" fill="none"/>
<polygon points="626.15,423.5 573.1,331.61 467,331.61 413.95,423.5 467,515.39 573.1,515.39" fill="none" stroke="#000" stroke-width="1.5" stroke-linejoin="miter"/>
<circle cx="591.5" cy="423.55" r="3.15" fill="#0e4fab"/><circle cx="591.46" cy="418.85" r="3.15" fill="#0f5cc5"/><circle cx="591.32" cy="414.13" r="3.15" fill="#1069db"/><circle cx="591.03" cy="409.38" r="3.15" fill="#1073ed"/><circle cx="590.51" cy="404.6" r="3.15" fill="#107af7"/><circle cx="589.66" cy="399.84" r="3.15" fill="#107cf9"/><circle cx="588.41" cy="395.13" r="3.15" fill="#107efc"/><circle cx="586.69" cy="390.56" r="3.15" fill="#107ffe"/><circle cx="584.49" cy="386.2" r="3.15" fill="#1280fe"/><circle cx="581.82" cy="382.11" r="3.15" fill="#1f7efb"/><circle cx="578.71" cy="378.34" r="3.15" fill="#337bf6"/><circle cx="575.27" cy="374.91" r="3.15" fill="#4f75ec"/><circle cx="571.56" cy="371.79" r="3.15" fill="#6b69dc"/><circle cx="567.69" cy="368.95" r="3.15" fill="#7e61d1"/><circle cx="563.72" cy="366.32" r="3.15" fill="#9755b5"/><circle cx="559.7" cy="363.84" r="3.15" fill="#c13e7f"/><circle cx="555.65" cy="361.46" r="3.15" fill="#e52449"/><circle cx="551.56" cy="359.14" r="3.15" fill="#fc1225"/><circle cx="547.41" cy="356.9" r="3.15" fill="#f50000"/><circle cx="543.14" cy="354.78" r="3.15" fill="#f00000"/><circle cx="538.75" cy="352.84" r="3.15" fill="#e90000"/><circle cx="534.19" cy="351.19" r="3.15" fill="#e10000"/><circle cx="529.49" cy="349.92" r="3.15" fill="#d90000"/><circle cx="524.68" cy="349.12" r="3.15" fill="#d50000"/><circle cx="519.8" cy="348.85" r="3.15" fill="#d00000"/><circle cx="514.92" cy="349.12" r="3.15" fill="#c80000"/><circle cx="510.11" cy="349.92" r="3.15" fill="#c00000"/><circle cx="505.41" cy="351.19" r="3.15" fill="#b00000"/><circle cx="500.85" cy="352.84" r="3.15" fill="#9e0000"/><circle cx="496.46" cy="354.78" r="3.15" fill="#800000"/><circle cx="492.19" cy="356.9" r="3.15" fill="#600000"/><circle cx="488.04" cy="359.14" r="3.15" fill="#300000"/><circle cx="483.95" cy="361.46" r="3.15" fill="#000000"/><circle cx="479.9" cy="363.84" r="3.15" fill="#000000"/><circle cx="475.88" cy="366.32" r="3.15" fill="#000000"/><circle cx="471.91" cy="368.95" r="3.15" fill="#000000"/><circle cx="468.04" cy="371.79" r="3.15" fill="#000000"/><circle cx="464.33" cy="374.91" r="3.15" fill="#000000"/><circle cx="460.89" cy="378.34" r="3.15" fill="#000000"/><circle cx="457.78" cy="382.11" r="3.15" fill="#000000"/><circle cx="455.11" cy="386.2" r="3.15" fill="#000000"/><circle cx="452.91" cy="390.56" r="3.15" fill="#000000"/><circle cx="451.19" cy="395.13" r="3.15" fill="#000000"/><circle cx="449.94" cy="399.84" r="3.15" fill="#000000"/><circle cx="449.09" cy="404.6" r="3.15" fill="#000000"/><circle cx="448.57" cy="409.38" r="3.15" fill="#01050c"/><circle cx="448.28" cy="414.13" r="3.15" fill="#072148"/><circle cx="448.14" cy="418.85" r="3.15" fill="#0c3c81"/><circle cx="448.1" cy="423.55" r="3.15" fill="#0e4fab"/><circle cx="448.14" cy="428.25" r="3.15" fill="#0f5cc5"/><circle cx="448.28" cy="432.97" r="3.15" fill="#1069db"/><circle cx="448.57" cy="437.72" r="3.15" fill="#1073ed"/><circle cx="449.09" cy="442.5" r="3.15" fill="#107af7"/><circle cx="449.94" cy="447.26" r="3.15" fill="#107cf9"/><circle cx="451.19" cy="451.97" r="3.15" fill="#107efc"/><circle cx="452.91" cy="456.54" r="3.15" fill="#107ffe"/><circle cx="455.11" cy="460.9" r="3.15" fill="#1280fe"/><circle cx="457.78" cy="464.99" r="3.15" fill="#1f7efb"/><circle cx="460.89" cy="468.76" r="3.15" fill="#337bf6"/><circle cx="464.33" cy="472.19" r="3.15" fill="#4f75ec"/><circle cx="468.04" cy="475.31" r="3.15" fill="#6b69dc"/><circle cx="471.91" cy="478.15" r="3.15" fill="#7e61d1"/><circle cx="475.88" cy="480.78" r="3.15" fill="#9755b5"/><circle cx="479.9" cy="483.26" r="3.15" fill="#c13e7f"/><circle cx="483.95" cy="485.64" r="3.15" fill="#e52449"/><circle cx="488.04" cy="487.96" r="3.15" fill="#fc1225"/><circle cx="492.19" cy="490.2" r="3.15" fill="#f50000"/><circle cx="496.46" cy="492.32" r="3.15" fill="#f00000"/><circle cx="500.85" cy="494.26" r="3.15" fill="#e90000"/><circle cx="505.41" cy="495.91" r="3.15" fill="#e10000"/><circle cx="510.11" cy="497.18" r="3.15" fill="#d90000"/><circle cx="514.92" cy="497.98" r="3.15" fill="#d50000"/><circle cx="519.8" cy="498.25" r="3.15" fill="#d00000"/><circle cx="524.68" cy="497.98" r="3.15" fill="#c80000"/><circle cx="529.49" cy="497.18" r="3.15" fill="#c00000"/><circle cx="534.19" cy="495.91" r="3.15" fill="#b00000"/><circle cx="538.75" cy="494.26" r="3.15" fill="#9e0000"/><circle cx="543.14" cy="492.32" r="3.15" fill="#800000"/><circle cx="547.41" cy="490.2" r="3.15" fill="#600000"/><circle cx="551.56" cy="487.96" r="3.15" fill="#300000"/><circle cx="555.65" cy="485.64" r="3.15" fill="#000000"/><circle cx="559.7" cy="483.26" r="3.15" fill="#000000"/><circle cx="563.72" cy="480.78" r="3.15" fill="#000000"/><circle cx="567.69" cy="478.15" r="3.15" fill="#000000"/><circle cx="571.56" cy="475.31" r="3.15" fill="#000000"/><circle cx="575.27" cy="472.19" r="3.15" fill="#000000"/><circle cx="578.71" cy="468.76" r="3.15" fill="#000000"/><circle cx="581.82" cy="464.99" r="3.15" fill="#000000"/><circle cx="584.49" cy="460.9" r="3.15" fill="#000000"/><circle cx="586.69" cy="456.54" r="3.15" fill="#000000"/><circle cx="588.41" cy="451.97" r="3.15" fill="#000000"/><circle cx="589.66" cy="447.26" r="3.15" fill="#000000"/><circle cx="590.51" cy="442.5" r="3.15" fill="#000000"/><circle cx="591.03" cy="437.72" r="3.15" fill="#01050c"/><circle cx="591.32" cy="432.97" r="3.15" fill="#072148"/><circle cx="591.46" cy="428.25" r="3.15" fill="#0c3c81"/>
<circle cx="519.8" cy="423.6" r="5.5" fill="none" stroke="#666" stroke-width="1.3"/>
<path d="M53.42,280.65 L54.57,280.30 L62.80,297.60 L45.10,297.60 Z M53.90,282.72 L59.79,295.44 L46.96,295.44 Z" fill="#000" fill-rule="evenodd"/>
<path d="M165.48,280.65 L166.60,280.30 L174.60,297.60 L157.40,297.60 Z M165.95,282.72 L171.68,295.44 L159.21,295.44 Z" fill="#000" fill-rule="evenodd"/>
<path d="M643.27,283.14 L644.42,282.80 L652.60,299.70 L635.00,299.70 Z M643.75,285.17 L649.61,297.59 L636.85,297.59 Z" fill="#000" fill-rule="evenodd"/>
<text id="ay1" font-size="22.7"  transform="translate(51.875,58.400)">0.1</text>
<text id="ay2" font-size="22.7"  transform="translate(40.175,110.175)">0.01</text>
<text id="ay3" font-size="22.7"  transform="translate(28.640,161.800)">0.001</text>
<text id="ax5" font-size="22.7"  transform="translate(84.125,227.825)"><tspan dy="1.1">−</tspan><tspan dy="-1.1" dx="0.5">5</tspan></text>
<text id="ax4" font-size="22.7"  transform="translate(132.675,227.950)"><tspan dy="1.1">−</tspan><tspan dy="-1.1" dx="0.5">4</tspan></text>
<text id="ax3" font-size="22.7"  transform="translate(181.825,227.825)"><tspan dy="1.1">−</tspan><tspan dy="-1.1" dx="0.5">3</tspan></text>
<text id="ax2" font-size="22.7"  transform="translate(230.900,227.950)"><tspan dy="1.1">−</tspan><tspan dy="-1.1" dx="0.5">2</tspan></text>
<text id="ax1" font-size="22.7"  transform="translate(279.725,227.950)"><tspan dy="1.1">−</tspan><tspan dy="-1.1" dx="0.5">1</tspan></text>
<text id="ax0" font-size="22.7"  transform="translate(335.375,227.950)">0</text>
<text id="amu" font-size="22.7"  transform="translate(173.851,256.207) scale(1.0154,1.0154)"><tspan font-style="italic">μ</tspan> [meV]</text>
<text id="aU" font-size="22.7"  transform="translate(175.320,38.513) scale(1.0605,1.0605)"><tspan font-style="italic">U</tspan>/<tspan font-style="italic">t</tspan>=4, <tspan font-style="italic">V</tspan><tspan font-size="16" dy="4">1</tspan><tspan dy="-4">​</tspan>/<tspan font-style="italic">U</tspan>=0.2</text>
<text id="aJ" font-size="22.7"  transform="translate(268.037,66.281) scale(1.0375,1.0375)"><tspan font-style="italic">J</tspan>/<tspan font-style="italic">t</tspan>=0.5</text>
<text id="adid" font-size="22.7"  transform="translate(113.726,177.995) scale(1.0316,1.0316)"><tspan font-style="italic">d</tspan>+<tspan font-style="italic">i</tspan> <tspan font-style="italic">d</tspan> SC</text>
<text id="aT" font-size="22.7"  transform="translate(20.084,130.079) rotate(-90) scale(1.0526,1.0526)"><tspan font-style="italic">T</tspan><tspan font-size="16" dy="3">c</tspan><tspan dy="-3">​</tspan>/<tspan font-style="italic">t</tspan><tspan font-size="16" dy="3">1</tspan><tspan dy="-3">​</tspan></text>
<text id="bup" font-size="22.7"  transform="translate(417.525,38.800)">0.2</text>
<text id="buz" font-size="22.7"  transform="translate(434.075,70.050)">0</text>
<text id="bum" font-size="22.7"  transform="translate(404.025,100.750)">−0.2</text>
<text id="blp" font-size="22.7"  transform="translate(417.525,141.000)">0.2</text>
<text id="blz" font-size="22.7"  transform="translate(434.075,172.250)">0</text>
<text id="blm" font-size="22.7"  transform="translate(404.025,202.700)">−0.2</text>
<text id="bx1" font-size="22.7"  transform="translate(448.425,228.200)">1</text>
<text id="bx16" font-size="22.7"  transform="translate(474.935,228.075)">16</text>
<text id="bx32" font-size="22.7"  transform="translate(510.404,228.075)">32</text>
<text id="bx48" font-size="22.7"  transform="translate(545.123,228.200)">48</text>
<text id="bx64" font-size="22.7"  transform="translate(579.342,228.075)">64</text>
<text id="bx80" font-size="22.7"  transform="translate(614.186,228.200)">80</text>
<text id="bx96" font-size="22.7"  transform="translate(648.905,228.075)">96</text>
<text id="bk" font-size="22.7"  transform="translate(549.500,258.575)"><tspan font-style="italic">k</tspan></text>
<text id="bdp" font-size="22.7"  transform="translate(389.635,84.826) rotate(-90) scale(1.0431,1.0431)"><tspan font-style="italic">d</tspan><tspan font-size="18" dy="5.5">+</tspan><tspan dy="-5.5">​</tspan>(<tspan font-style="italic">k</tspan>)</text>
<text id="bdm" font-size="22.7"  transform="translate(389.930,182.275) rotate(-90) scale(1.0333,1.0333)"><tspan font-style="italic">d</tspan><tspan font-size="18" dy="6">−</tspan><tspan dy="-6">​</tspan>(<tspan font-style="italic">k</tspan>)</text>
<text id="ct1" font-size="24" stroke="#fff" stroke-width="0.2" transform="translate(37.976,297.888) scale(1.0400,1.1091)">|</text>
<text id="ct3" font-size="17" stroke="#fff" stroke-width="0.2" transform="translate(64.732,301.000) scale(1.0703,1.0043)"><tspan font-weight="bold">k</tspan></text>
<text id="ct4" font-size="24" stroke="#fff" stroke-width="0.2" transform="translate(76.668,297.888) scale(1.2800,1.1091)">|</text>
<text id="ct5" font-size="24" stroke="#fff" stroke-width="0.2" transform="translate(84.736,303.372) scale(1.3630,1.5188)">/</text>
<text id="ct6" font-size="24" stroke="#fff" stroke-width="0.2" transform="translate(95.459,297.550) scale(1.0815,1.0000)">max</text>
<text id="ct7" font-size="24" stroke="#fff" stroke-width="0.2" transform="translate(140.608,298.256) scale(1.0400,1.1488)">(</text>
<text id="ct8" font-size="24" stroke="#fff" stroke-width="0.2" transform="translate(148.700,297.888) scale(1.6000,1.1091)">|</text>
<text id="ct10" font-size="17" stroke="#fff" stroke-width="0.2" transform="translate(176.290,301.000) scale(1.1333,1.0043)"><tspan font-weight="bold">k</tspan></text>
<text id="ct11" font-size="24" stroke="#fff" stroke-width="0.2" transform="translate(188.340,297.888) scale(1.5200,1.1091)">|</text>
<text id="ct12" font-size="24" stroke="#fff" stroke-width="0.2" transform="translate(195.355,298.256) scale(1.0560,1.1488)">)</text>
<text id="cl0" font-size="18.6"  transform="translate(78.000,512.675)">0</text>
<text id="cl1" font-size="18.6"  transform="translate(78.000,476.725)">0.2</text>
<text id="cl2" font-size="18.6"  transform="translate(78.000,440.525)">0.4</text>
<text id="cl3" font-size="18.6"  transform="translate(78.000,404.325)">0.6</text>
<text id="cl4" font-size="18.6"  transform="translate(78.000,368.375)">0.8</text>
<text id="cl5" font-size="18.6"  transform="translate(78.000,332.175)">1.0</text>
<text id="cG" font-size="22.5"  transform="translate(221.073,413.792) scale(1.1404,1.0780)">Γ</text>
<text id="dt1" font-size="24" stroke="#fff" stroke-width="0.2" transform="translate(590.996,299.274) scale(1.1483,0.9371)">arg</text>
<text id="dt2" font-size="24" stroke="#fff" stroke-width="0.2" transform="translate(625.412,300.081) scale(1.0880,1.0837)">(</text>
<text id="dt4" font-size="17" stroke="#fff" stroke-width="0.2" transform="translate(653.853,302.844) scale(1.1568,0.8766)"><tspan font-weight="bold">k</tspan></text>
<text id="dt5" font-size="24" stroke="#fff" stroke-width="0.2" transform="translate(666.268,300.081) scale(0.9760,1.0837)">)</text>
<text id="dl0" font-size="18.6"  transform="translate(663.600,508.050)"><tspan dy="1.6">−</tspan><tspan dy="-1.6" dx="1.6">3</tspan></text>
<text id="dl1" font-size="18.6"  transform="translate(663.600,479.175)"><tspan dy="1.6">−</tspan><tspan dy="-1.6" dx="1.6">2</tspan></text>
<text id="dl2" font-size="18.6"  transform="translate(663.600,450.175)"><tspan dy="1.6">−</tspan><tspan dy="-1.6" dx="1.6">1</tspan></text>
<text id="dl3" font-size="18.6"  transform="translate(663.600,421.175)">0</text>
<text id="dl4" font-size="18.6"  transform="translate(663.600,392.175)">1</text>
<text id="dl5" font-size="18.6"  transform="translate(663.600,363.175)">2</text>
<text id="dl6" font-size="18.6"  transform="translate(663.600,334.050)">3</text>
<text id="dG" font-size="22.5"  transform="translate(513.331,413.792) scale(1.1830,1.0780)">Γ</text>
<text id="La" font-size="19" font-family="'Liberation Sans', sans-serif" font-weight="bold" transform="translate(-0.502,14.238) scale(1.0049,1.0476)">a</text>
<text id="Lb" font-size="19" font-family="'Liberation Sans', sans-serif" font-weight="bold" transform="translate(358.397,14.381) scale(1.1692,1.0643)">b</text>
<text id="Lc" font-size="19" font-family="'Liberation Sans', sans-serif" font-weight="bold" transform="translate(-0.868,281.940) scale(1.1568,1.0667)">c</text>
<text id="Ld" font-size="19" font-family="'Liberation Sans', sans-serif" font-weight="bold" transform="translate(358.680,282.087) scale(1.2000,1.0643)">d</text>
</svg></body></html>
